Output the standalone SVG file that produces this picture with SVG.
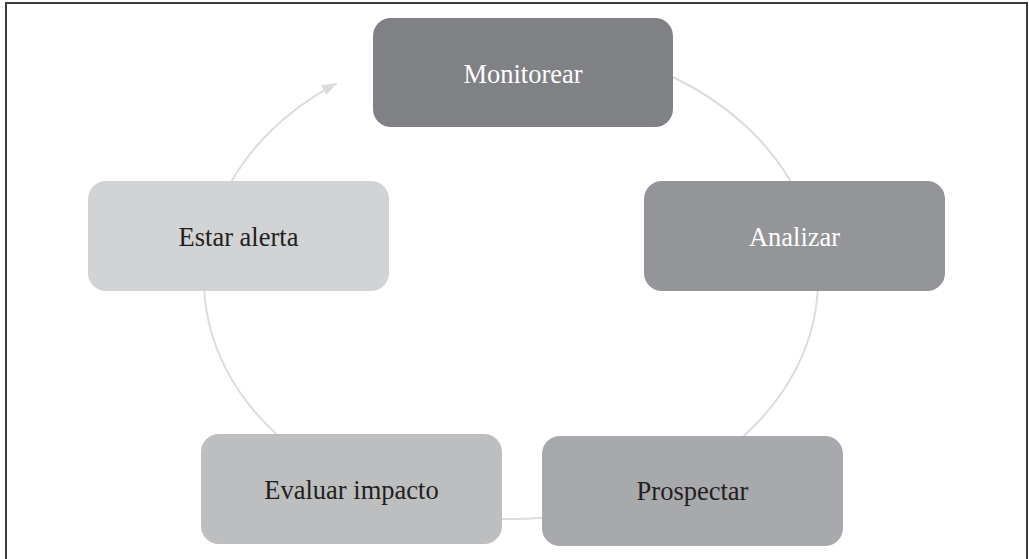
<svg xmlns="http://www.w3.org/2000/svg" width="1029" height="559" viewBox="0 0 1029 559">
<style>
.arc{fill:none;stroke:#dbdcdd;stroke-width:2}
.lbl{font-family:"Liberation Serif","Times New Roman",serif;font-size:26.5px;text-anchor:middle}
.w{fill:#ffffff}
.d{fill:#231f20}
</style>
<defs>
<marker id="ah" markerUnits="userSpaceOnUse" markerWidth="20" markerHeight="16" viewBox="-16 -8 20 16" refX="0" refY="0" orient="auto">
<path d="M0,0 L-15,-5.5 L-15,5.5 z" fill="#dbdcdd"/>
</marker>
</defs>
<rect width="1029" height="559" fill="#ffffff"/>
<path d="M6,560 V3 H1027 V560" fill="none" stroke="#3c3c3c" stroke-width="2"/>
<g id="connectors">
<path class="arc" d="M673,77 A307,239 0 0 1 790.4,181"/>
<path class="arc" d="M817.7,291 A307,239 0 0 1 743.6,436"/>
<path class="arc" d="M542,517.8 A307,239 0 0 1 502,518.9"/>
<path class="arc" d="M276.2,434 A307,239 0 0 1 204.3,291"/>
<path class="arc" d="M231.6,181 A307,239 0 0 1 337,83.1" marker-end="url(#ah)"/>
</g>
<g id="monitorear">
<rect x="373" y="18" width="300" height="109" rx="18" fill="#808184"/>
<text class="lbl w" x="523" y="83">Monitorear</text>
</g>
<g id="analizar">
<rect x="644" y="181" width="301" height="110" rx="18" fill="#939598"/>
<text class="lbl w" x="794.5" y="245.5">Analizar</text>
</g>
<g id="prospectar">
<rect x="542" y="436" width="301" height="110" rx="18" fill="#a7a9ac"/>
<text class="lbl d" x="692.5" y="500">Prospectar</text>
</g>
<g id="evaluar">
<rect x="201" y="434" width="301" height="110" rx="18" fill="#bcbec0"/>
<text class="lbl d" x="351.5" y="499">Evaluar impacto</text>
</g>
<g id="estar">
<rect x="88" y="181" width="301" height="110" rx="18" fill="#d1d3d4"/>
<text class="lbl d" x="238.5" y="246">Estar alerta</text>
</g>
</svg>
